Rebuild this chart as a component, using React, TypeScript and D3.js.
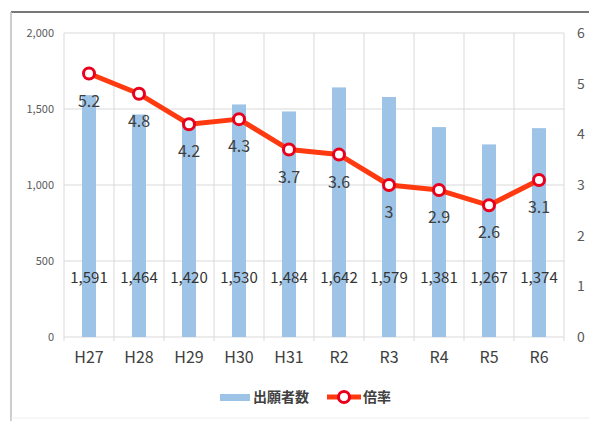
import React from "react";
import * as d3 from "d3";

const categories = ["H27", "H28", "H29", "H30", "H31", "R2", "R3", "R4", "R5", "R6"];
const applicants = [1591, 1464, 1420, 1530, 1484, 1642, 1579, 1381, 1267, 1374];
const ratios = [5.2, 4.8, 4.2, 4.3, 3.7, 3.6, 3, 2.9, 2.6, 3.1];
const leftTicks = [0, 500, 1000, 1500, 2000];
const rightTicks = [0, 1, 2, 3, 4, 5, 6];
const legendLabels = ["出願者数", "倍率"];

const W = 589, H = 421;
const plot = { left: 64, right: 564, top: 33, bottom: 337 };
const font = "'Noto Sans CJK JP', 'Noto Sans', sans-serif";

export default function App() {
  const x = d3.scaleBand<string>().domain(categories).range([plot.left, plot.right]).padding(0);
  const yL = d3.scaleLinear().domain([0, 2000]).range([plot.bottom, plot.top]);
  const yR = d3.scaleLinear().domain([0, 6]).range([plot.bottom, plot.top]);
  const barW = 14;
  const cx = (c: string) => (x(c) as number) + x.bandwidth() / 2;
  const line = d3.line<number>().x((_, i) => cx(categories[i])).y((d) => yR(d));
  const fmt = d3.format(",");
  const red = "#ff3a10";
  const mark = "#e8001c";

  return (
    <svg width={W} height={H} style={{ position: "absolute", left: 0, top: 0, background: "#fff" }}>
      <rect x={0} y={0} width={W} height={H} fill="#fff" />
      {/* frame */}
      <line x1={11} x2={W} y1={12} y2={12} stroke="#777" strokeWidth={2} />
      <line x1={11} x2={11} y1={12} y2={H} stroke="#bbb" strokeWidth={1.5} />
      <line x1={11} x2={W} y1={418} y2={418} stroke="#eee" strokeWidth={1} />
      {/* grid */}
      {leftTicks.map((t) => (
        <line key={"h" + t} x1={plot.left} x2={plot.right} y1={yL(t)} y2={yL(t)} stroke="#d9d9d9" strokeWidth={1} />
      ))}
      {categories.map((c) => (
        <line key={"v" + c} x1={x(c) as number} x2={x(c) as number} y1={plot.top} y2={plot.bottom + 4} stroke="#d9d9d9" strokeWidth={1} />
      ))}
      <line x1={plot.right} x2={plot.right} y1={plot.top} y2={plot.bottom + 4} stroke="#d9d9d9" strokeWidth={1} />
      {/* bars */}
      {applicants.map((v, i) => (
        <rect key={"b" + i} x={cx(categories[i]) - barW / 2} y={yL(v)} width={barW} height={plot.bottom - yL(v)} fill="#9dc3e6" />
      ))}
      {/* bar labels */}
      {applicants.map((v, i) => (
        <text key={"bl" + i} x={cx(categories[i])} y={283} textAnchor="middle" fontSize={15} fill="#333" fontFamily={font}>
          {fmt(v)}
        </text>
      ))}
      {/* line */}
      <path d={line(ratios) || ""} fill="none" stroke={red} strokeWidth={5} strokeLinejoin="round" />
      {ratios.map((v, i) => (
        <circle key={"c" + i} cx={cx(categories[i])} cy={yR(v)} r={5.5} fill="#fff" stroke={mark} strokeWidth={3} />
      ))}
      {ratios.map((v, i) => (
        <text key={"rl" + i} x={cx(categories[i])} y={yR(v) + 33} textAnchor="middle" fontSize={16} fill="#404040" fontFamily={font}>
          {String(v)}
        </text>
      ))}
      {/* left axis */}
      {leftTicks.map((t) => (
        <text key={"lt" + t} x={54} y={yL(t) + 4} textAnchor="end" fontSize={11} fill="#595959" fontFamily={font}>
          {fmt(t)}
        </text>
      ))}
      {/* right axis */}
      {rightTicks.map((t) => (
        <text key={"rt" + t} x={577} y={yR(t) + 5} textAnchor="start" fontSize={14} fill="#595959" fontFamily={font}>
          {t}
        </text>
      ))}
      {/* x labels */}
      {categories.map((c) => (
        <text key={"xl" + c} x={cx(c)} y={363} textAnchor="middle" fontSize={16} fill="#404040" fontFamily={font}>
          {c}
        </text>
      ))}
      {/* legend */}
      <rect x={220} y={394} width={30} height={7} fill="#9dc3e6" />
      <text x={253} y={402} fontSize={14} fill="#404040" fontFamily={font} fontWeight="bold">{legendLabels[0]}</text>
      <line x1={327} x2={361} y1={397} y2={397} stroke={red} strokeWidth={5} />
      <circle cx={344} cy={397} r={5.5} fill="#fff" stroke={mark} strokeWidth={3} />
      <text x={363} y={402} fontSize={14} fill="#404040" fontFamily={font} fontWeight="bold">{legendLabels[1]}</text>
    </svg>
  );
}
